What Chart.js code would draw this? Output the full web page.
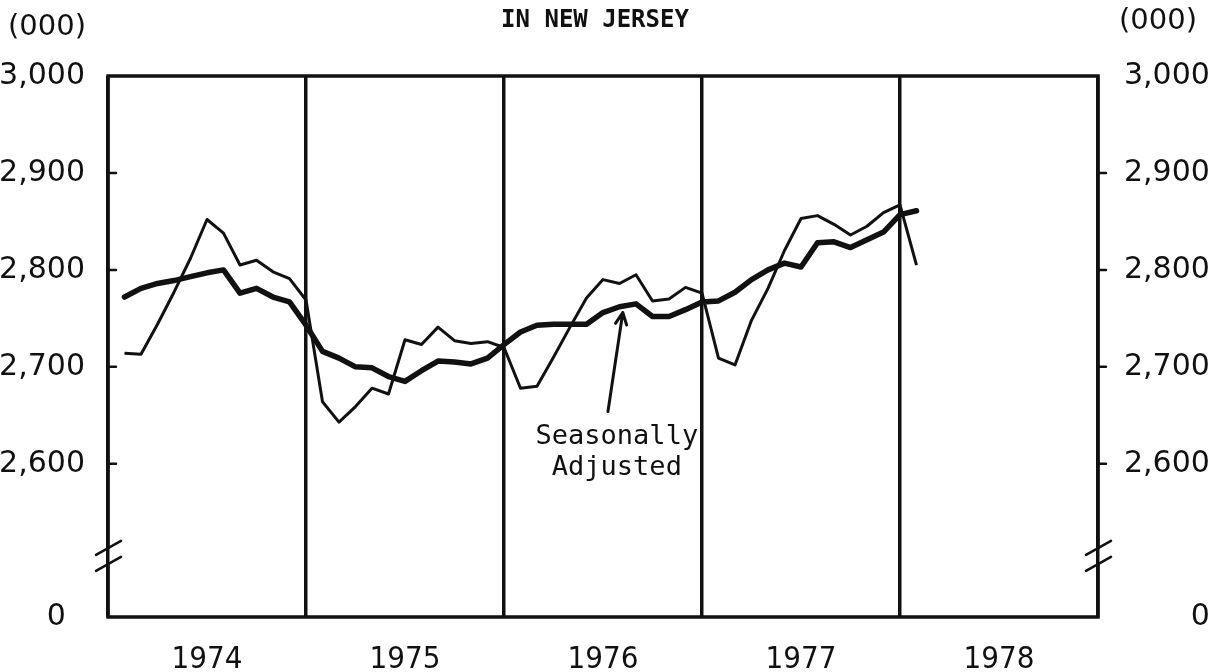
<!DOCTYPE html>
<html>
<head>
<meta charset="utf-8">
<script src="https://cdn.jsdelivr.net/npm/chart.js@4/dist/chart.umd.min.js"></script>
<style>
  html, body { margin: 0; padding: 0; background: #fff; }
</style>
</head>
<body>
<canvas id="employment" width="1210" height="672"></canvas>
<script>
// monthly series, Jan 1974 .. Jan 1978, thousands of jobs
const startYear = 1974;
const years = [1974, 1975, 1976, 1977, 1978];

const unadjusted = [
  2714, 2713, 2744, 2777, 2812, 2852, 2838, 2805, 2810, 2798, 2791, 2769,
  2664, 2643, 2659, 2678, 2672, 2728, 2723, 2741, 2727, 2724, 2726, 2720,
  2678, 2680, 2710, 2741, 2771, 2790, 2786, 2795, 2768, 2770, 2782, 2776,
  2709, 2702, 2748, 2781, 2820, 2853, 2856, 2847, 2836, 2845, 2859, 2867,
  2805
];
const adjusted = [
  2772, 2781, 2786, 2789, 2793, 2797, 2800, 2776, 2781, 2772, 2767, 2743,
  2716, 2709, 2700, 2699, 2690, 2685, 2696, 2706, 2705, 2703, 2709, 2723,
  2736, 2743, 2744, 2744, 2744, 2756, 2762, 2765, 2752, 2752, 2759, 2767,
  2768, 2777, 2790, 2800, 2807, 2803, 2828, 2829, 2823, 2831, 2839, 2857,
  2861
];

const yTicks = [2600, 2700, 2800, 2900, 3000];
const yMin = 2442;      // bottom of the frame, shown as "0" (broken axis)
const yBreak = 2505;    // where the axis is broken
const unitLabel = '(000)';
const title = 'IN NEW JERSEY';
const note = ['Seasonally', 'Adjusted'];
const notePos = { x: 1976.57, y: 2628 };
const arrowFrom = { x: 1976.525, y: 2654 };
const arrowTo = { x: 1976.6, y: 2756 };

const ink = '#111';
const numFont = "'DejaVu Sans', sans-serif";
const monoFont = "'DejaVu Sans Mono', monospace";

const toX = i => startYear + (i + 1) / 12;

const paper = {
  id: 'paper',
  afterDraw(chart) {
    const { ctx, chartArea: a, scales } = chart;
    const yb = scales.y.getPixelForValue(yBreak);
    ctx.save();
    ctx.strokeStyle = ink;
    ctx.lineCap = 'round';

    // frame, broken on both sides
    ctx.lineWidth = 3.5;
    ctx.beginPath();
    ctx.moveTo(a.left, yb - 8);
    ctx.lineTo(a.left, a.top);
    ctx.lineTo(a.right, a.top);
    ctx.lineTo(a.right, yb - 8);
    ctx.moveTo(a.right, yb + 8);
    ctx.lineTo(a.right, a.bottom);
    ctx.lineTo(a.left, a.bottom);
    ctx.lineTo(a.left, yb + 8);
    ctx.stroke();

    ctx.lineWidth = 2.5;
    [a.left, a.right].forEach(x => {
      ctx.beginPath();
      ctx.moveTo(x - 12, yb - 1);
      ctx.lineTo(x + 13, yb - 15);
      ctx.moveTo(x - 12, yb + 15);
      ctx.lineTo(x + 13, yb + 1);
      ctx.stroke();
    });

    // small tick marks
    yTicks.slice(0, -1).forEach(v => {
      const py = scales.y.getPixelForValue(v);
      ctx.beginPath();
      ctx.moveTo(a.left, py);
      ctx.lineTo(a.left + 8, py);
      ctx.moveTo(a.right, py);
      ctx.lineTo(a.right + 8, py);
      ctx.stroke();
    });

    // headings
    ctx.fillStyle = ink;
    ctx.textBaseline = 'top';
    ctx.font = `29px ${numFont}`;
    ctx.textAlign = 'left';
    ctx.fillText(unitLabel, 8, 13);
    ctx.fillText(unitLabel, 1119, 7);
    ctx.font = `bold 24px ${monoFont}`;
    ctx.textAlign = 'center';
    ctx.fillText(title, 595, 9);

    // annotation
    const sx = scales.x, sy = scales.y;
    ctx.font = `27px ${monoFont}`;
    ctx.textBaseline = 'middle';
    const nx = sx.getPixelForValue(notePos.x);
    const ny = sy.getPixelForValue(notePos.y);
    ctx.fillText(note[0], nx, ny);
    ctx.fillText(note[1], nx, ny + 31);

    const x0 = sx.getPixelForValue(arrowFrom.x), y0 = sy.getPixelForValue(arrowFrom.y);
    const x1 = sx.getPixelForValue(arrowTo.x), y1 = sy.getPixelForValue(arrowTo.y);
    ctx.lineWidth = 3;
    ctx.beginPath();
    ctx.moveTo(x0, y0);
    ctx.lineTo(x1, y1);
    const ang = Math.atan2(y1 - y0, x1 - x0);
    ctx.moveTo(x1, y1);
    ctx.lineTo(x1 - 13 * Math.cos(ang - 0.45), y1 - 13 * Math.sin(ang - 0.45));
    ctx.moveTo(x1, y1);
    ctx.lineTo(x1 - 13 * Math.cos(ang + 0.45), y1 - 13 * Math.sin(ang + 0.45));
    ctx.stroke();
    ctx.restore();
  }
};

const yAxis = (position, zeroLabel) => ({
  type: 'linear',
  position: position,
  min: yMin,
  max: 3000,
  afterBuildTicks: s => { s.ticks = [yMin].concat(yTicks).map(v => ({ value: v })); },
  afterFit: s => { s.width = position === 'left' ? 108 : 112; },
  grid: { display: false },
  border: { display: false },
  ticks: {
    padding: position === 'left' ? 15 : 18,
    color: ink,
    font: { family: numFont, size: 30 },
    callback: v => v === yMin ? zeroLabel : v.toLocaleString('en-US')
  }
});

new Chart(document.getElementById('employment'), {
  type: 'line',
  data: {
    datasets: [
      {
        label: 'Seasonally Adjusted',
        data: adjusted.map((v, i) => ({ x: toX(i), y: v })),
        borderColor: ink,
        borderWidth: 5.5,
        borderJoinStyle: 'round',
        borderCapStyle: 'round',
        pointRadius: 0,
        tension: 0
      },
      {
        label: 'Not Adjusted',
        data: unadjusted.map((v, i) => ({ x: toX(i), y: v })),
        borderColor: ink,
        borderWidth: 3,
        borderJoinStyle: 'round',
        pointRadius: 0,
        tension: 0
      }
    ]
  },
  options: {
    responsive: false,
    animation: false,
    layout: { padding: { top: 76, left: 0, right: 0, bottom: 0 } },
    plugins: { legend: { display: false }, tooltip: { enabled: false } },
    scales: {
      x: {
        type: 'linear',
        min: startYear,
        max: 1979,
        afterBuildTicks: s => { s.ticks = years.concat(1979).map(v => ({ value: v })); },
        afterFit: s => { s.height = 55; },
        grid: { color: ink, lineWidth: 3.5, drawTicks: false },
        border: { display: false },
        ticks: {
          autoSkip: false,
          maxRotation: 0,
          labelOffset: 99,
          padding: 24,
          color: ink,
          font: { family: "'DejaVu Sans Condensed', 'Liberation Sans Narrow', 'DejaVu Sans', sans-serif", size: 31 },
          callback: v => years.includes(v) ? String(v) : ''
        }
      },
      y: yAxis('left', '0  '),
      y2: yAxis('right', '       0')
    }
  },
  plugins: [paper]
});
</script>
</body>
</html>
